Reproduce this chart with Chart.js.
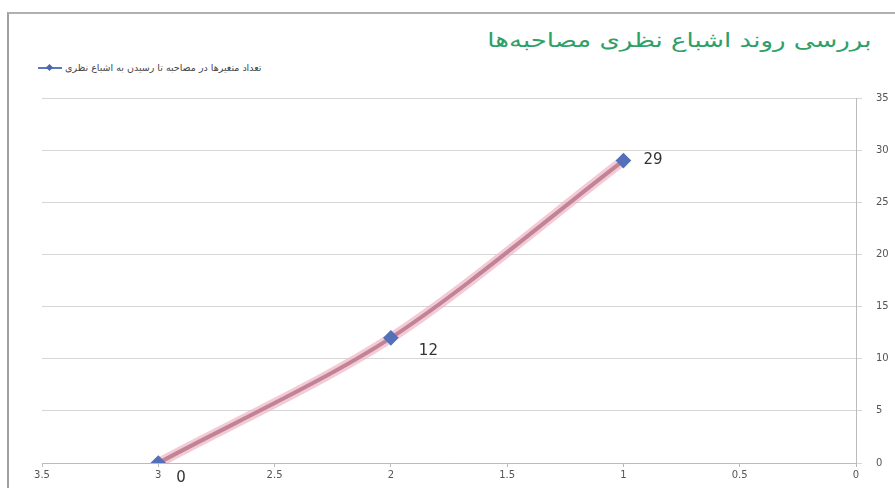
<!DOCTYPE html>
<html><head><meta charset="utf-8">
<script src="https://cdn.jsdelivr.net/npm/chart.js@4"></script>
<style>
html,body{margin:0;padding:0;background:#fff;width:895px;height:488px;overflow:hidden;position:relative;font-family:"DejaVu Sans",sans-serif}
#frame{position:absolute;left:7px;top:12px;width:900px;height:490px;border-top:2px solid #b0b0b0;border-left:2px solid #a0a0a0}
#title{position:absolute;right:24px;top:28px;color:#2fa067;font-size:20px;direction:rtl;white-space:nowrap;transform:scaleX(1.3);transform-origin:right center}
#legend{position:absolute;left:38px;top:62px;font-size:9.5px;color:#444;direction:ltr;white-space:nowrap;display:flex;align-items:center}
#legend .mk{position:relative;width:24px;height:10px;margin-right:3px}
#legend .mk:before{content:"";position:absolute;left:0;right:0;top:4px;height:2px;background:#5a78bd}
#legend .mk:after{content:"";position:absolute;left:9px;top:2px;width:5px;height:5px;background:#4a64b0;transform:rotate(45deg)}
#legend .tx{direction:rtl}
canvas{position:absolute;left:0;top:0}
</style></head>
<body>
<div id="frame"></div>
<div id="title">بررسی روند اشباع نظری مصاحبه‌ها</div>
<div id="legend"><span class="mk"></span><span class="tx" id="legtx"></span></div>
<canvas id="c" width="895" height="488"></canvas>
<script>
const seriesName = "تعداد متغیرها در مصاحبه تا رسیدن به اشباع نظری";
const interviews = [3, 2, 1];
const variableCounts = [0, 12, 29];
const xTicks = [0, 0.5, 1, 1.5, 2, 2.5, 3, 3.5];
const yTicks = [0, 5, 10, 15, 20, 25, 30, 35];

document.getElementById('legtx').textContent = seriesName;

const pts = interviews.map((x, i) => ({x: x, y: variableCounts[i]}));
const labelOffsets = [[18, 15], [28, 13], [20, 0]];

const labelPlugin = {
  id: 'pointLabels',
  afterDatasetsDraw(chart) {
    const ctx = chart.ctx;
    const meta = chart.getDatasetMeta(1);
    ctx.save();
    ctx.font = '15px "DejaVu Sans", sans-serif';
    ctx.fillStyle = '#333';
    ctx.textAlign = 'left';
    ctx.textBaseline = 'middle';
    meta.data.forEach((el, i) => {
      const o = labelOffsets[i];
      ctx.fillText(String(variableCounts[i]), el.x + o[0], el.y + o[1]);
    });
    ctx.restore();
  }
};

new Chart(document.getElementById('c'), {
  type: 'scatter',
  data: {
    datasets: [
      {data: pts, showLine: true, borderColor: 'rgba(240,180,200,0.7)', borderWidth: 10, order: 2,
       pointRadius: 0, tension: 0.3, borderCapStyle: 'round'},
      {label: seriesName, data: pts, showLine: true, borderColor: '#c08494', borderWidth: 4, order: 1,
       pointStyle: 'rectRot', pointRadius: 5, pointBackgroundColor: '#5470b8', pointBorderColor: '#5470b8',
       tension: 0.3}
    ]
  },
  options: {
    responsive: false,
    animation: false,
    layout: {padding: {left: 42, top: 98, right: 0, bottom: 0}},
    plugins: {legend: {display: false}, title: {display: false}, tooltip: {enabled: false}},
    scales: {
      x: {
        type: 'linear', reverse: true, min: 0, max: 3.5, position: 'bottom',
        afterBuildTicks: s => { s.ticks = xTicks.map(v => ({value: v})); },
        afterFit: s => { s.height = 25; },
        grid: {display: true, drawOnChartArea: false, drawTicks: true, tickLength: 4, color: '#bbb'},
        border: {display: true, color: '#bbb', width: 1},
        ticks: {color: '#555', font: {size: 10, family: '"DejaVu Sans", sans-serif'}, padding: 2, maxRotation: 0,
                callback: v => String(v)}
      },
      y: {
        type: 'linear', position: 'right', min: 0, max: 35,
        afterBuildTicks: s => { s.ticks = yTicks.map(v => ({value: v})); },
        afterFit: s => { s.width = 39; },
        grid: {color: '#d6d6d6', lineWidth: 1, drawTicks: true, tickLength: 6},
        border: {display: true, color: '#bbb', width: 1},
        ticks: {color: '#555', font: {size: 10, family: '"DejaVu Sans", sans-serif'}, padding: 14,
                callback: v => String(v)}
      }
    }
  },
  plugins: [labelPlugin]
});
</script>
</body></html>
